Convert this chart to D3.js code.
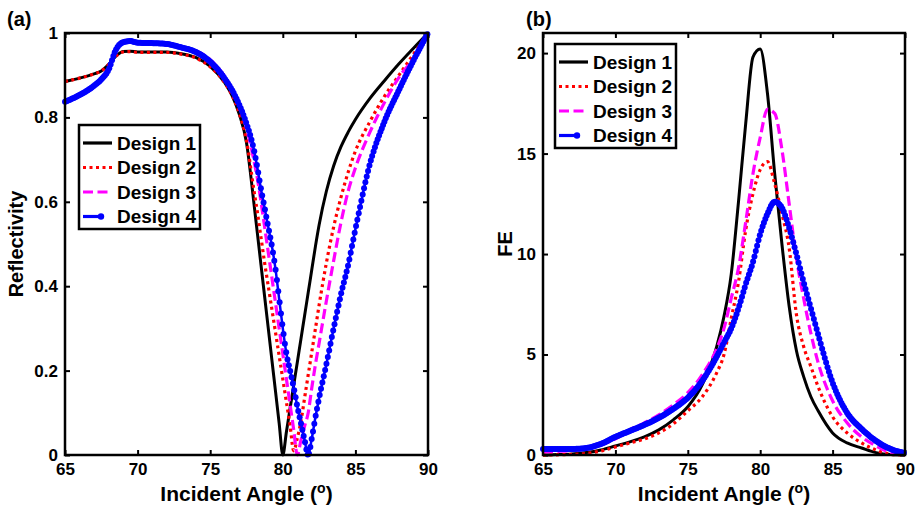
<!DOCTYPE html>
<html>
<head>
<meta charset="utf-8">
<script src="https://cdn.jsdelivr.net/npm/d3@7"></script>
<style>
  body { margin: 0; background: #fff; }
  svg { display: block; font-family: "Liberation Sans", Arial, sans-serif; font-weight: bold; }
</style>
</head>
<body>
<div id="chart"></div>
<script>
// angles for the reflectivity panel (a)
const angleR = [65, 66, 67, 67.5, 68, 68.5, 69, 69.5, 70, 71, 72, 73, 74, 75, 76, 76.5, 77, 77.5, 78,
  78.25, 78.5, 78.75, 79, 79.25, 79.5, 79.75, 80, 80.25, 80.5, 80.75, 81, 81.25, 81.5, 81.75, 82,
  82.25, 82.5, 83, 83.5, 84, 84.5, 85, 86, 87, 88, 89, 90];

const refl1 = [0.885, 0.893, 0.903, 0.91, 0.925, 0.945, 0.956, 0.957, 0.955, 0.955, 0.955, 0.951, 0.942, 0.921, 0.882,
  0.852, 0.808, 0.74, 0.60, 0.525, 0.45, 0.375, 0.30, 0.225, 0.15, 0.075, 0.0, 0.055, 0.11, 0.165, 0.22,
  0.275, 0.33, 0.385, 0.44, 0.495, 0.545, 0.625, 0.685, 0.73, 0.765, 0.795, 0.845, 0.887, 0.927, 0.964, 1.0];
const refl2 = [0.885, 0.893, 0.903, 0.91, 0.925, 0.945, 0.955, 0.956, 0.954, 0.954, 0.954, 0.95, 0.941, 0.92, 0.882,
  0.853, 0.81, 0.745, 0.63, 0.575, 0.515, 0.455, 0.40, 0.345, 0.29, 0.235, 0.18, 0.125, 0.07, 0.01, 0.04,
  0.08, 0.135, 0.19, 0.245, 0.30, 0.355, 0.455, 0.54, 0.61, 0.67, 0.72, 0.79, 0.85, 0.90, 0.95, 1.0];
const refl3 = [0.838, 0.854, 0.876, 0.892, 0.915, 0.958, 0.977, 0.979, 0.976, 0.976, 0.975, 0.968, 0.958, 0.937, 0.897,
  0.868, 0.83, 0.775, 0.70, 0.655, 0.60, 0.54, 0.48, 0.42, 0.36, 0.30, 0.24, 0.18, 0.12, 0.06, 0.0,
  0.035, 0.068, 0.10, 0.16, 0.215, 0.265, 0.365, 0.46, 0.55, 0.625, 0.68, 0.765, 0.835, 0.895, 0.94, 1.0];
const refl4 = [0.837, 0.853, 0.875, 0.89, 0.913, 0.96, 0.978, 0.981, 0.977, 0.976, 0.974, 0.966, 0.955, 0.932, 0.892,
  0.865, 0.83, 0.785, 0.725, 0.68, 0.63, 0.585, 0.54, 0.495, 0.44, 0.37, 0.30, 0.24, 0.20, 0.16, 0.115,
  0.075, 0.035, 0.0, 0.04, 0.09, 0.135, 0.215, 0.30, 0.38, 0.45, 0.535, 0.69, 0.79, 0.865, 0.935, 1.0];

// angles for the field enhancement panel (b)
const angleFE = [65, 66, 67, 68, 69, 70, 71, 72, 73, 74, 75, 76, 77, 77.5, 78, 78.5, 79, 79.5, 80, 80.5,
  81, 81.5, 82, 82.5, 83, 83.5, 84, 85, 86, 87, 88, 89, 90];

const fe1 = [0.0, 0.02, 0.05, 0.12, 0.25, 0.45, 0.65, 0.9, 1.25, 1.75, 2.4, 3.5, 5.4, 6.9, 9.0, 12.6, 16.5, 19.8, 20.2, 18.0,
  14.0, 10.5, 7.4, 5.2, 3.9, 2.9, 2.2, 1.1, 0.6, 0.35, 0.12, 0.02, 0.0];
const fe2 = [0.0, 0.01, 0.03, 0.08, 0.2, 0.4, 0.6, 0.8, 1.1, 1.55, 2.2, 2.9, 4.1, 5.0, 6.8, 8.6, 11.2, 13.0, 14.2, 14.6,
  13.5, 12.0, 10.3, 7.0, 5.4, 4.4, 3.4, 1.9, 1.1, 0.6, 0.25, 0.04, 0.0];
const fe3 = [0.15, 0.18, 0.22, 0.3, 0.5, 0.8, 1.25, 1.6, 2.0, 2.5, 3.1, 4.0, 5.3, 6.3, 7.8, 9.3, 11.6, 14.0, 15.8, 17.2,
  17.0, 15.2, 12.5, 9.8, 7.8, 6.05, 4.6, 2.7, 1.6, 0.9, 0.45, 0.12, 0.0];
const fe4 = [0.3, 0.3, 0.3, 0.35, 0.55, 0.9, 1.2, 1.5, 1.85, 2.3, 2.85, 3.7, 4.9, 5.6, 6.3, 7.3, 8.5, 9.6, 11.0, 12.0,
  12.6, 12.3, 11.3, 10.0, 8.6, 7.3, 6.0, 3.6, 2.1, 1.3, 0.7, 0.3, 0.1];

const designs = ["Design 1", "Design 2", "Design 3", "Design 4"];
const xTicks = [65, 70, 75, 80, 85, 90];
const reflTicks = [0, 0.2, 0.4, 0.6, 0.8, 1];
const feTicks = [0, 5, 10, 15, 20];

// line styles per design
const styles = [
  { color: "#000000", dash: null, width: 3, dots: false },
  { color: "#ff0000", dash: "3,3.5", width: 3.2, dots: false },
  { color: "#ff00ff", dash: "10,4.5", width: 3.2, dots: false },
  { color: "#0000ff", dash: null, width: 2.5, dots: true }
];

const svg = d3.select("#chart").append("svg")
  .attr("width", 920)
  .attr("height", 508);

// put blue markers along the drawn curve, one every "step" pixels in x
function dotsAlong(g, node, step, color) {
  const L = node.getTotalLength();
  const pts = [];
  let nextX = -Infinity;
  for (let s = 0; s <= L; s += 0.4) {
    const p = node.getPointAtLength(s);
    if (p.x >= nextX) { pts.push(p); nextX = p.x + step; }
  }
  g.selectAll(null).data(pts).enter().append("circle")
    .attr("cx", d => d.x).attr("cy", d => d.y).attr("r", 3)
    .attr("fill", color);
}

function drawPanel(p) {
  const x = d3.scaleLinear().domain([65, 90]).range([p.left, p.right]);
  const y = d3.scaleLinear().domain(p.yDomain).range([455, 33]);
  const g = svg.append("g");

  // axes with inward ticks on all four sides
  g.append("g").attr("transform", "translate(0,455)")
    .call(d3.axisBottom(x).tickValues(xTicks).tickSize(-5).tickPadding(8));
  g.append("g").attr("transform", "translate(0,33)")
    .call(d3.axisTop(x).tickValues(xTicks).tickSize(-5).tickFormat(""));
  g.append("g").attr("transform", "translate(" + p.left + ",0)")
    .call(d3.axisLeft(y).tickValues(p.yTicks).tickSize(-5).tickPadding(7).tickFormat(d3.format("~g")));
  g.append("g").attr("transform", "translate(" + p.right + ",0)")
    .call(d3.axisRight(y).tickValues(p.yTicks).tickSize(-5).tickFormat(""));
  g.selectAll(".domain").remove();
  g.selectAll(".tick line").attr("stroke", "#000").attr("stroke-width", 2);
  g.selectAll(".tick text")
    .attr("font-family", "Liberation Sans, Arial, sans-serif")
    .attr("font-weight", "bold")
    .attr("font-size", 17)
    .attr("fill", "#000");

  // curves
  const line = d3.line()
    .x((d, i) => x(p.angles[i]))
    .y(d => y(d))
    .curve(d3.curveMonotoneX);

  p.series.forEach((vals, k) => {
    const st = styles[k];
    const path = g.append("path")
      .attr("d", line(vals))
      .attr("fill", "none")
      .attr("stroke", st.color)
      .attr("stroke-width", st.width)
      .attr("stroke-dasharray", st.dash)
      .attr("stroke-linejoin", "round");
    if (st.dots) dotsAlong(g, path.node(), 1.3, st.color);
  });

  // frame
  g.append("rect")
    .attr("x", p.left).attr("y", 33)
    .attr("width", p.right - p.left).attr("height", 455 - 33)
    .attr("fill", "none").attr("stroke", "#000").attr("stroke-width", 2.5);

  // legend
  const lg = g.append("g").attr("transform", "translate(" + p.legX + "," + p.legY + ")");
  lg.append("rect").attr("width", 121).attr("height", 104)
    .attr("fill", "#fff").attr("stroke", "#000").attr("stroke-width", 2.5);
  designs.forEach((name, k) => {
    const st = styles[k];
    const yy = 18 + 24.5 * k;
    lg.append("line")
      .attr("x1", 4).attr("x2", st.dots ? 24 : 33).attr("y1", yy).attr("y2", yy)
      .attr("stroke", st.color).attr("stroke-width", 3.2)
      .attr("stroke-dasharray", st.dash);
    if (st.dots) lg.append("circle").attr("cx", 22).attr("cy", yy).attr("r", 3.2).attr("fill", st.color);
    lg.append("text").attr("x", 38).attr("y", yy + 6.5)
      .attr("font-size", 19).text(name);
  });

  // axis titles
  const xl = g.append("text")
    .attr("x", (p.left + p.right) / 2).attr("y", 501)
    .attr("text-anchor", "middle").attr("font-size", 21);
  xl.append("tspan").text("Incident Angle (");
  xl.append("tspan").attr("dy", -8).attr("font-size", 14).text("o");
  xl.append("tspan").attr("dy", 8).text(")");

  g.append("text")
    .attr("transform", "translate(" + p.yLabelX + ",244) rotate(-90)")
    .attr("text-anchor", "middle").attr("font-size", 20)
    .text(p.yLabel);

  g.append("text").attr("x", p.tagX).attr("y", 26)
    .attr("font-size", 20).text(p.tag);
}

drawPanel({
  left: 65, right: 428, yDomain: [0, 1], yTicks: reflTicks,
  angles: angleR, series: [refl1, refl2, refl3, refl4],
  legX: 79, legY: 125, yLabel: "Reflectivity", yLabelX: 23, tag: "(a)", tagX: 7
});

drawPanel({
  left: 543, right: 905, yDomain: [0, 21], yTicks: feTicks,
  angles: angleFE, series: [fe1, fe2, fe3, fe4],
  legX: 555, legY: 44, yLabel: "FE", yLabelX: 512, tag: "(b)", tagX: 526
});
</script>
</body>
</html>
